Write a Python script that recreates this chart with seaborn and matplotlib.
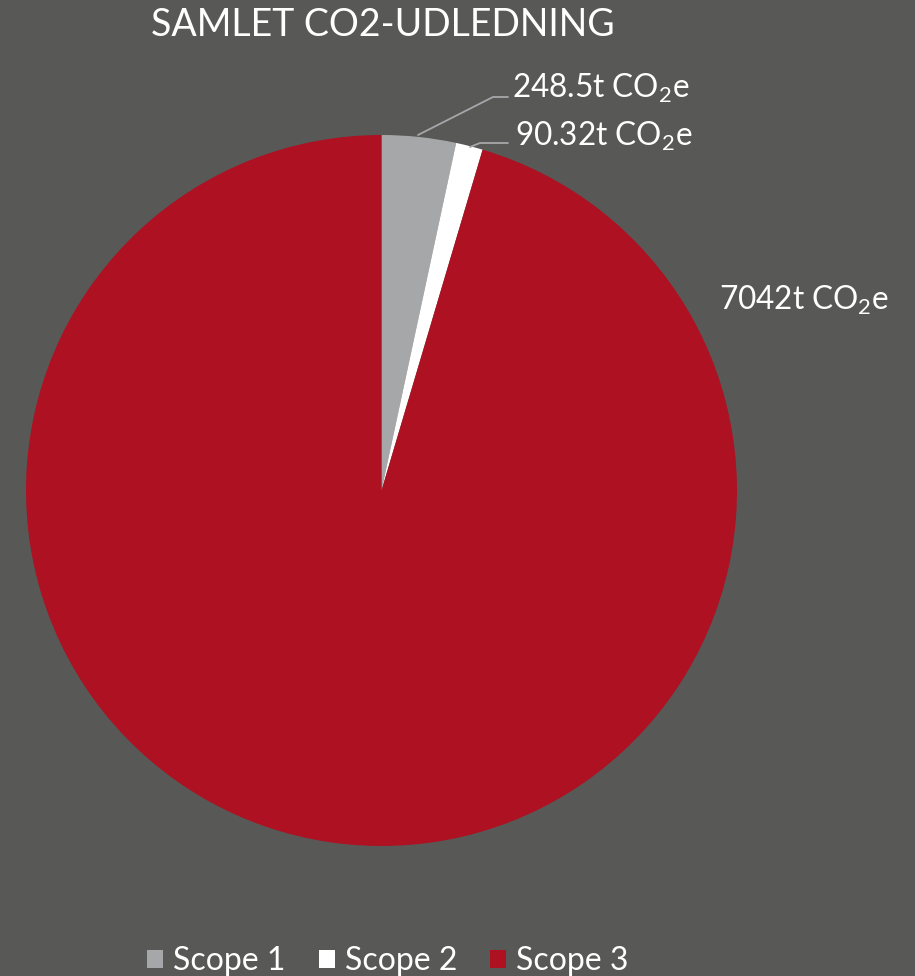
import matplotlib
matplotlib.use("Agg")
import matplotlib.pyplot as plt
import seaborn as sns
from matplotlib.patches import Patch

sns.set_theme(style="white")
plt.rcParams['font.family'] = ['Lato', 'DejaVu Sans']
plt.rcParams['mathtext.fontset'] = 'custom'
plt.rcParams['mathtext.rm'] = 'Lato'
plt.rcParams['mathtext.default'] = 'regular'

categories = ["Scope 1", "Scope 2", "Scope 3"]
values = [248.5, 90.32, 7042]
value_labels = ["248.5t CO$_2$e", "90.32t CO$_2$e", "7042t CO$_2$e"]
colors = ["#A6A7A9", "#FFFFFF", "#AD1122"]
bg = "#585857"

W, H = 915, 976
fig = plt.figure(figsize=(W / 100, H / 100), dpi=100, facecolor=bg)
cx, cy, r = 381.5, 490.5, 355.5
ax = fig.add_axes([(cx - r) / W, (H - cy - r) / H, 2 * r / W, 2 * r / H])
ax.set_facecolor(bg)
wedges, _ = ax.pie(values, colors=colors, startangle=90, counterclock=False,
                   radius=1, wedgeprops=dict(linewidth=0))
ax.set_xlim(-1, 1)
ax.set_ylim(-1, 1)
ax.set_aspect("equal")
ax.axis("off")

def px(x, y):
    return ((x - cx) / r, (cy - y) / r)

lc = "#A6A7A9"
# leader lines
for pts in ([(418, 135), (493, 97), (508, 97)], [(470, 147), (480, 143), (508, 143)]):
    xs, ys = zip(*[px(*p) for p in pts])
    ax.plot(xs, ys, color=lc, lw=1.3, clip_on=False)

label_pos = [(512, 88), (515, 136), (719, 300)]
for (x, y), t in zip(label_pos, value_labels):
    X, Y = px(x, y)
    ax.text(X, Y, t, color="white", fontsize=22.7, ha="left", va="center", clip_on=False)

fig.text(151 / W, 1 - 25 / H, "SAMLET CO2-UDLEDNING", color="white", fontsize=27,
         ha="left", va="center")

handles = [Patch(facecolor=c, edgecolor="none", label=l) for c, l in zip(colors, categories)]
leg = fig.legend(handles=handles, loc="center", bbox_to_anchor=(388 / W, 1 - 961 / H),
                 ncol=3, frameon=False, fontsize=23, labelcolor="white",
                 handlelength=0.5, handleheight=0.5, handletextpad=0.32, columnspacing=1.03)

fig.savefig("out.png", facecolor=bg, dpi=100)
